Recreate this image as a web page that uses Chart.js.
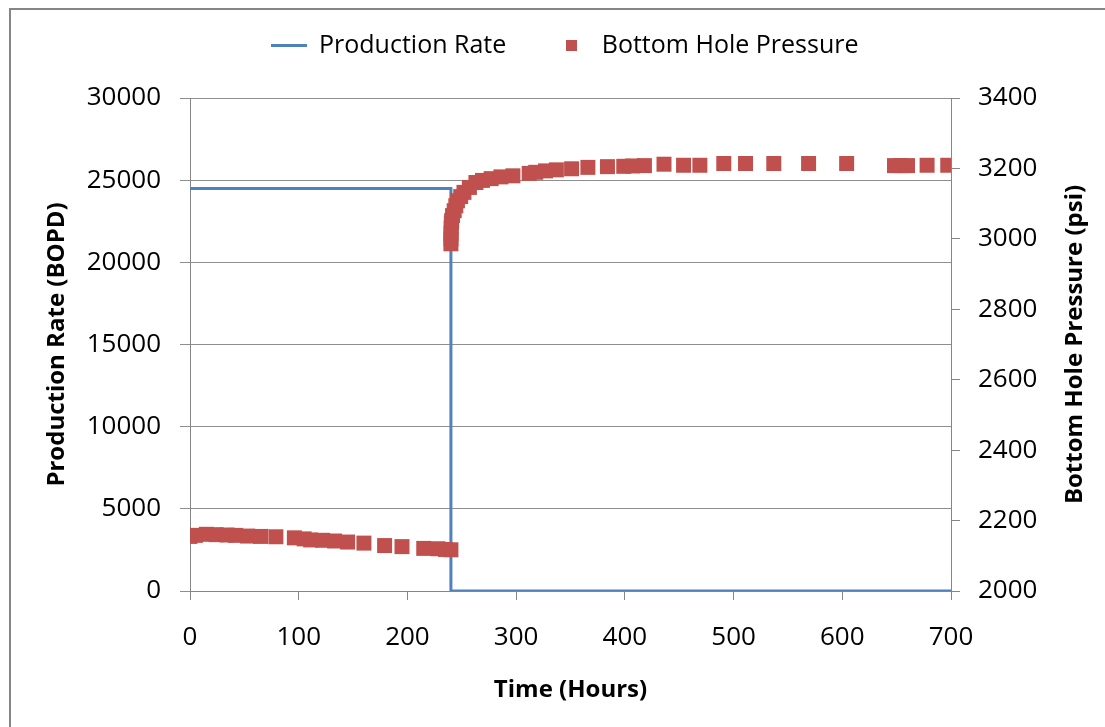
<!DOCTYPE html>
<html>
<head>
<meta charset="utf-8">
<script src="https://cdn.jsdelivr.net/npm/chart.js@4.4.0/dist/chart.umd.min.js"></script>
<style>
html,body{margin:0;padding:0;background:#fff;overflow:hidden;width:1105px;height:727px;}
#frame{position:absolute;left:9px;top:8px;width:1200px;height:800px;border:2px solid #868686;box-sizing:border-box;}
#c{position:absolute;left:0;top:0;}
</style>
</head>
<body>
<div id="frame"></div>
<canvas id="c" width="1105" height="727"></canvas>
<script>
// ---- data ----
const rateHours = [0, 240, 240, 700];
const rateBOPD = [24500, 24500, 0, 0];

const pressureHours = [
  0, 5, 15, 24, 34, 42, 53, 65, 79, 96, 105, 111, 122, 133, 145, 160, 179, 195, 215, 228, 235, 240,
  240.0, 240.05, 240.1, 240.2, 240.4, 240.7, 241.5, 243, 244.5, 246, 249, 252, 257, 263, 269, 277,
  286, 297, 312, 318, 327, 337, 351, 366, 384, 399, 407, 418, 436, 454, 469, 491, 511, 537, 569,
  604, 648, 654, 660, 678, 697
];
const pressurePsi = [
  2155, 2158, 2161, 2160, 2159, 2158, 2156, 2155, 2154, 2151, 2148, 2145, 2144, 2142, 2139, 2136, 2129, 2126, 2121, 2120, 2118, 2117,
  2986, 3000, 3015, 3030, 3045, 3052, 3066, 3080, 3094, 3108, 3120, 3132, 3146, 3160, 3166, 3171,
  3176, 3179, 3186, 3189, 3193, 3196, 3199, 3203, 3205, 3206, 3207, 3208, 3212, 3209, 3209, 3214, 3214, 3214, 3214,
  3214, 3208, 3208, 3208, 3209, 3209
];

const timeTicks = [0, 100, 200, 300, 400, 500, 600, 700];
const rateTicks = [0, 5000, 10000, 15000, 20000, 25000, 30000];
const pressureTicks = [2000, 2200, 2400, 2600, 2800, 3000, 3200, 3400];

const seriesLabels = ['Production Rate', 'Bottom Hole Pressure'];
const axisTitles = {x: 'Time (Hours)', y: 'Production Rate (BOPD)', y2: 'Bottom Hole Pressure (psi)'};

// ---- styles ----
const BLUE = '#4F81BD';
const RED = '#C0504D';
const AXIS = '#868686';
const GRID = '#8E8E8E';
const FONT = "'Open Sans', 'DejaVu Sans', sans-serif";

Chart.defaults.font.family = FONT;
Chart.defaults.color = '#000';

function makeLegendImg(w, h, color) {
  const c = document.createElement('canvas');
  c.width = w; c.height = h;
  const ctx = c.getContext('2d');
  ctx.fillStyle = color;
  ctx.fillRect(0, 0, w, h);
  return c;
}
const lineImg = makeLegendImg(36, 3, BLUE);
const squareImg = makeLegendImg(11, 11, RED);

const legendHeightPlugin = {
  id: 'legendHeight',
  beforeLayout(chart) {
    const lg = chart.legend;
    if (lg && !lg._patched) {
      const f = lg.fit;
      lg.fit = function () { f.call(this); this.height = 112; };
      lg._patched = true;
    }
  }
};

// right-axis title reads bottom-to-top, like the left one
const rightTitlePlugin = {
  id: 'rightTitle',
  afterDraw(chart) {
    const s = chart.scales.y2;
    const ctx = chart.ctx;
    ctx.save();
    ctx.translate(s.right - 30, (s.top + s.bottom) / 2);
    ctx.rotate(-Math.PI / 2);
    ctx.font = 'bold 24px ' + FONT;
    ctx.textAlign = 'center';
    ctx.textBaseline = 'middle';
    ctx.fillStyle = '#000';
    ctx.fillText(axisTitles.y2, 0, 0);
    ctx.restore();
  }
};

function toPoints(xs, ys) { return xs.map((x, i) => ({x: x, y: ys[i]})); }
function fixedList(list) { return (axis) => { axis.ticks = list.map(v => ({value: v})); }; }

new Chart(document.getElementById('c'), {
  type: 'scatter',
  data: {
    datasets: [
      {
        label: seriesLabels[0],
        data: toPoints(rateHours, rateBOPD),
        showLine: true,
        borderColor: BLUE,
        backgroundColor: BLUE,
        borderWidth: 3,
        pointRadius: 0,
        tension: 0,
        fill: false,
        yAxisID: 'y',
        order: 1
      },
      {
        label: seriesLabels[1],
        data: toPoints(pressureHours, pressurePsi),
        showLine: false,
        pointStyle: 'rect',
        pointRadius: 10.6,
        pointHoverRadius: 10.6,
        backgroundColor: RED,
        borderColor: RED,
        borderWidth: 0,
        yAxisID: 'y2',
        order: 0
      }
    ]
  },
  options: {
    responsive: false,
    animation: false,
    events: [],
    layout: {padding: {left: 24, right: 0, top: -14, bottom: 0}},
    plugins: {
      tooltip: {enabled: false},
      legend: {
        position: 'top',
        labels: {
          usePointStyle: true,
          pointStyleWidth: 36,
          padding: 47,
          color: '#000',
          font: {size: 25},
          generateLabels: () => [
            {text: seriesLabels[0], pointStyle: lineImg, fillStyle: BLUE, strokeStyle: BLUE, lineWidth: 0, hidden: false, datasetIndex: 0, fontColor: '#000'},
            {text: seriesLabels[1], pointStyle: squareImg, fillStyle: RED, strokeStyle: RED, lineWidth: 0, hidden: false, datasetIndex: 1, fontColor: '#000'}
          ]
        }
      }
    },
    scales: {
      x: {
        type: 'linear',
        position: 'bottom',
        min: 0, max: 700,
        afterBuildTicks: fixedList(timeTicks),
        afterFit: (s) => { s.height = 136; },
        ticks: {font: {size: 26}, color: '#000', padding: 22, maxRotation: 0, callback: (v) => String(v)},
        grid: {drawOnChartArea: false, drawTicks: true, tickLength: 9, color: AXIS},
        border: {color: AXIS, width: 1},
        title: {display: true, text: axisTitles.x, font: {size: 24, weight: 'bold'}, color: '#000', padding: {top: 0, bottom: 22.6}}
      },
      y: {
        type: 'linear',
        position: 'left',
        min: 0, max: 30000,
        afterBuildTicks: fixedList(rateTicks),
        afterFit: (s) => { s.width = 166; },
        ticks: {font: {size: 26}, color: '#000', padding: 19, callback: (v) => String(v)},
        grid: {drawOnChartArea: true, drawTicks: true, tickLength: 10, color: GRID},
        border: {color: AXIS, width: 1},
        title: {display: true, text: axisTitles.y, font: {size: 24, weight: 'bold'}, color: '#000', padding: {top: 18.6, bottom: 0}}
      },
      y2: {
        type: 'linear',
        position: 'right',
        min: 2000, max: 3400,
        afterBuildTicks: fixedList(pressureTicks),
        afterFit: (s) => { s.width = 154; },
        ticks: {font: {size: 26}, color: '#000', padding: 18, callback: (v) => String(v)},
        grid: {drawOnChartArea: false, drawTicks: true, tickLength: 9, color: AXIS},
        border: {color: AXIS, width: 1},
        title: {display: false, text: axisTitles.y2}
      }
    }
  },
  plugins: [legendHeightPlugin, rightTitlePlugin]
});
</script>
</body>
</html>
